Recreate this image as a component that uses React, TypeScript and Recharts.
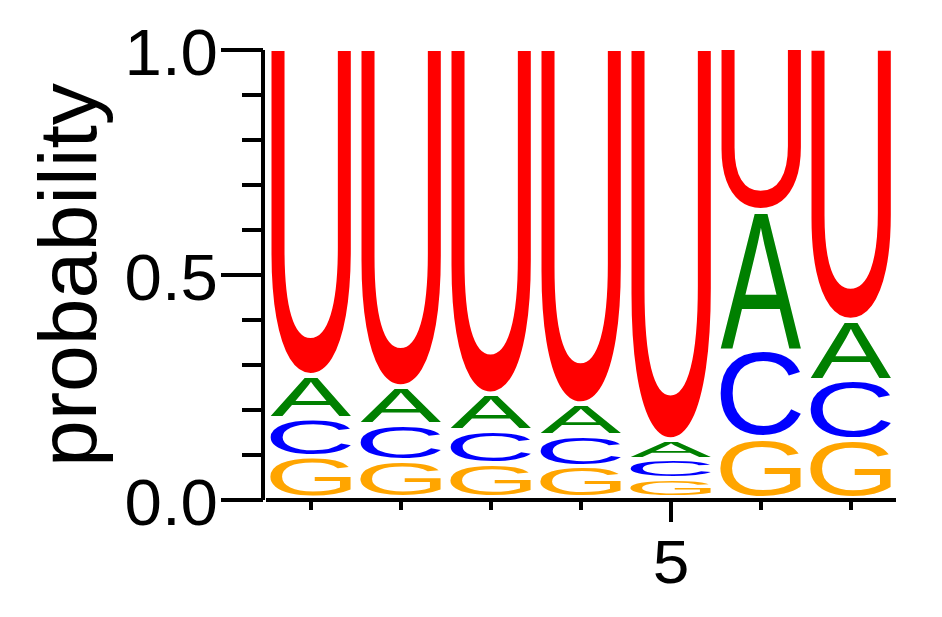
import { BarChart, Bar, XAxis, YAxis } from "recharts"

// sequence logo: probability of each base per position
const positions = [1, 2, 3, 4, 5, 6, 7]
const probG = [0.091, 0.083, 0.076, 0.07, 0.042, 0.133, 0.13]
const probC = [0.085, 0.08, 0.075, 0.069, 0.044, 0.195, 0.132]
const probA = [0.096, 0.084, 0.08, 0.07, 0.043, 0.31, 0.133]
const probU = [0.728, 0.753, 0.769, 0.791, 0.871, 0.362, 0.605]

const yTicks = [0, 0.1, 0.2, 0.3, 0.4, 0.5, 0.6, 0.7, 0.8, 0.9, 1.0]
const yLabeled = [0, 0.5, 1.0]
const xLabeled = [5]

// bottom to top
const BASES = [
  { key: "G", color: "#ffa500" },
  { key: "C", color: "#0000ff" },
  { key: "A", color: "#008000" },
  { key: "U", color: "#ff0000" },
]

const data = positions.map((pos, i) => ({
  pos,
  G: probG[i],
  C: probC[i],
  A: probA[i],
  U: probU[i],
}))

const FONT = '"Liberation Sans", Arial, Helvetica, sans-serif'
const GAP = 4.5

type Ink = { left: number; right: number; ascent: number; descent: number }

// rough Arial ink boxes at 100px, used if canvas measuring fails
const FALLBACK: Record<string, Ink> = {
  A: { left: 0.1, right: 66.8, ascent: 71.6, descent: 0 },
  C: { left: -5, right: 68, ascent: 73.6, descent: 1.2 },
  G: { left: -4, right: 72, ascent: 73.6, descent: 1.2 },
  U: { left: -8, right: 64, ascent: 71.6, descent: 1.2 },
}

const inkCache: Record<string, Ink> = {}

function inkBox(letter: string): Ink {
  if (inkCache[letter]) return inkCache[letter]
  let box = FALLBACK[letter]
  try {
    const ctx = document.createElement("canvas").getContext("2d")
    if (ctx) {
      ctx.font = `100px ${FONT}`
      const m = ctx.measureText(letter)
      if (m.actualBoundingBoxAscent > 0) {
        box = {
          left: m.actualBoundingBoxLeft,
          right: m.actualBoundingBoxRight,
          ascent: m.actualBoundingBoxAscent,
          descent: m.actualBoundingBoxDescent,
        }
      }
    }
  } catch (e) {
    // keep fallback
  }
  inkCache[letter] = box
  return box
}

// letter stretched so its ink fills the bar rectangle
function Glyph(props: any) {
  const { x, y, width, height, letter, color } = props
  const h = height - GAP
  if (!(h > 0) || !(width > 0)) return null
  const b = inkBox(letter)
  const w0 = b.left + b.right
  const h0 = b.ascent + b.descent
  return (
    <text
      fontSize={100}
      fontFamily={FONT}
      fill={color}
      transform={`translate(${x} ${y}) scale(${width / w0} ${h / h0}) translate(${b.left} ${b.ascent})`}
    >
      {letter}
    </text>
  )
}

function XTick(props: any) {
  const { x, y, payload } = props
  const major = xLabeled.includes(payload.value)
  return (
    <g>
      <line x1={x} x2={x} y1={y} y2={y + (major ? 22 : 10)} stroke="#000" strokeWidth={4} />
      {major && (
        <text
          transform={`translate(${x} ${y + 82.5}) scale(1.08 1)`}
          textAnchor="middle"
          fontSize={61}
          fontFamily={FONT}
          fill="#000"
        >
          {payload.value}
        </text>
      )}
    </g>
  )
}

function YTick(props: any) {
  const { x, y, payload } = props
  const v = payload.value
  const major = yLabeled.includes(v)
  const ax = x - 3
  return (
    <g>
      <line x1={ax - (major ? 42 : 21)} x2={ax} y1={y} y2={y} stroke="#000" strokeWidth={4} />
      {major && (
        <text
          transform={`translate(${ax - 45} ${y + 25}) scale(1.05 1)`}
          textAnchor="end"
          fontSize={64}
          fontFamily={FONT}
          fill="#000"
        >
          {v.toFixed(1)}
        </text>
      )}
    </g>
  )
}

const YLabel = () => (
  <text
    transform="translate(96 275) rotate(-90) scale(1.04 1)"
    textAnchor="middle"
    fontSize={81}
    fontFamily={FONT}
    fill="#000"
  >
    probability
  </text>
)

export default function App() {
  return (
    <div style={{ position: "absolute", left: 0, top: 0, background: "#fff" }}>
      <BarChart
        width={942}
        height={617}
        data={data}
        margin={{ top: 50, right: 46, bottom: 0, left: 0 }}
        barCategoryGap="5%"
      >
        <XAxis
          dataKey="pos"
          height={117}
          interval={0}
          tickLine={false}
          tickSize={0}
          tickMargin={0}
          axisLine={{ stroke: "#000", strokeWidth: 4 }}
          tick={<XTick />}
        />
        <YAxis
          width={266}
          type="number"
          domain={[0, 1]}
          allowDataOverflow
          ticks={yTicks}
          interval={0}
          tickLine={false}
          tickSize={0}
          tickMargin={0}
          axisLine={{ stroke: "#000", strokeWidth: 4, transform: "translate(-3 0)" }}
          tick={<YTick />}
          label={YLabel}
        />
        {BASES.map((b) => (
          <Bar
            key={b.key}
            dataKey={b.key}
            stackId="logo"
            fill={b.color}
            isAnimationActive={false}
            shape={(p: any) => <Glyph {...p} letter={b.key} color={b.color} />}
          />
        ))}
      </BarChart>
    </div>
  )
}
